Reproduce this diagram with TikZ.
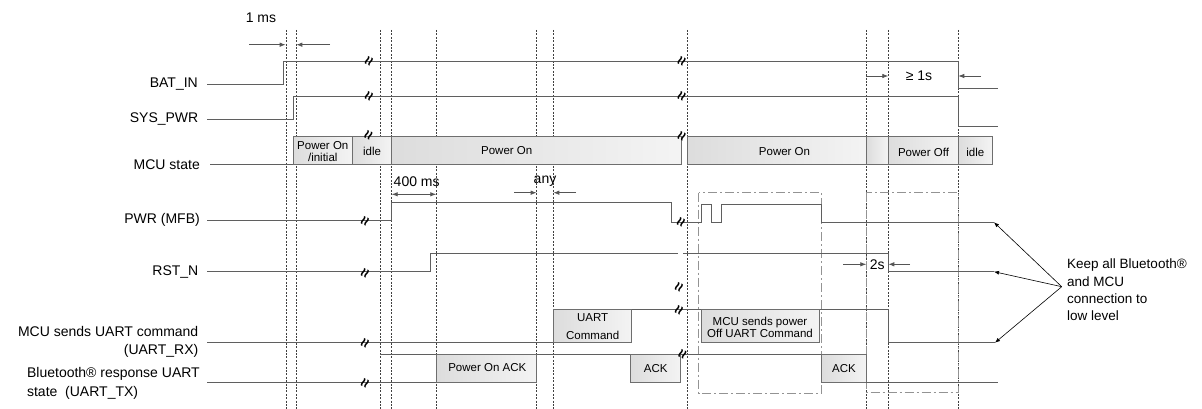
\documentclass[tikz,border=0pt]{standalone}
\usepackage{fontspec}
\setmainfont{Liberation Sans}
\usetikzlibrary{arrows.meta}
\newcommand\fsg{\fontsize{14}{18}\selectfont}
\newcommand\fbx{\fontsize{11.5}{12}\selectfont}
\definecolor{sigc}{RGB}{95,95,95}
\definecolor{dimc}{RGB}{85,85,85}
\definecolor{boxd}{RGB}{110,110,110}
\begin{document}
\begin{tikzpicture}[x=1pt,y=-1pt,
  sig/.style={draw=sigc, line width=0.9pt},
  gridline/.style={draw=black!75, line width=0.45pt, dash pattern=on 2pt off 1.4pt},
  dashdot/.style={draw=gray!85, line width=1pt, dash pattern=on 9pt off 3pt on 2pt off 3pt},
  dim/.style={draw=dimc, line width=0.8pt, -{Latex[length=6pt,width=4.5pt]}},
  dimboth/.style={draw=dimc, line width=0.8pt, {Latex[length=6pt,width=4.5pt]}-{Latex[length=6pt,width=4.5pt]}},
  keep/.style={draw=black, line width=0.6pt, -{Latex[length=5pt,width=4pt]}},
  stbox/.style={draw=boxd, line width=0.7pt, left color=gray!27, right color=gray!9},
  lbl/.style={font=\fsg, inner sep=0pt},
  blbl/.style={font=\fbx, inner sep=0pt, align=center},
  brk/.pic={\node[font=\fontsize{16}{16}\selectfont\bfseries, rotate=65, inner sep=0pt] {≈};}
]
\useasboundingbox (0,0) rectangle (1202,409);

% grid lines
\foreach \gx in {286,296,380,391.7,436.3,536.7,553.3,687.3,866.3,888.3,958.3}
  \draw[gridline] (\gx,30) -- (\gx,409);

% dash-dot frames
\draw[dashdot] (698.7,192.7) rectangle (821.7,393.3);
\draw[dashdot] (866.3,192.7) rectangle (958.3,392.3);

% signal labels
\node[lbl, anchor=east] (lbat) at (198,84) {BAT\_IN};
\node[lbl, anchor=east] (lsys) at (198.5,119) {SYS\_PWR};
\node[lbl, anchor=east] (lmcu) at (200,164.7) {MCU state};
\node[lbl, anchor=east] (lpwr) at (200,220) {PWR (MFB)};
\node[lbl, anchor=east] (lrst) at (198.5,271.7) {RST\_N};
\node[lbl, anchor=east, align=right] (lrx) at (198.5,341.7) {MCU sends UART command\\(UART\_RX)};
\node[lbl, anchor=east, align=left, font=\fontsize{14}{19}\selectfont] (ltx) at (200,383.5) {Bluetooth® response UART\\state\ \ (UART\_TX)};

% BAT_IN
\draw[sig] (207,84) -- (283,84) -- (283,61.3) -- (958.3,61.3) -- (958.3,88.3) -- (997.7,88.3);
% SYS_PWR
\draw[sig] (207,119) -- (293.7,119) -- (293.7,96.3) -- (958.3,96.3) -- (958.3,126) -- (997.7,126);

% MCU state
\draw[sig] (210,164.7) -- (293.3,164.7);
\draw[stbox] (293.3,136.7) rectangle (352.3,164.7);
\draw[stbox] (352.3,136.7) rectangle (391.7,164.7);
\draw[stbox] (391.7,136.7) rectangle (681,164.7);
\draw[stbox] (687.3,136.7) rectangle (866.3,164.7);
\draw[stbox] (866.3,136.7) rectangle (888.3,164.7);
\draw[stbox] (888.3,136.7) rectangle (958.3,164.7);
\draw[stbox] (958.3,136.7) rectangle (992.3,164.7);
\node[blbl] (s1) at (322.8,151.5) {Power On\\/initial};
\node[blbl] (s2) at (372,151) {idle};
\node[blbl] (s3) at (506.7,151) {Power On};
\node[blbl] (s4) at (784.5,151.5) {Power On};
\node[blbl] (s5) at (923.5,152) {Power Off};
\node[blbl] (s6) at (975.3,152) {idle};

% PWR (MFB)
\draw[sig] (207,220) -- (391.7,220) -- (391.7,202) -- (671,202) -- (671,222.3) -- (701,222.3)
  -- (701,204.3) -- (711.7,204.3) -- (711.7,222.3) -- (721.3,222.3) -- (721.3,204.3)
  -- (821.7,204.3) -- (821.7,222.3) -- (994,222.3) coordinate (pwrend);

% RST_N
\draw[sig] (207,271.7) -- (430.7,271.7) -- (430.7,253.3) -- (677.7,253.3);
\draw[sig] (683.3,253.3) -- (888.3,253.3) -- (888.3,271.7) -- (994,271.7) coordinate (rstend);

% UART_RX
\draw[sig] (207,342.7) -- (553.3,342.7);
\draw[stbox] (553.3,309.3) rectangle (631.7,342.7);
\node[blbl, font=\fontsize{11.5}{18}\selectfont] (uc) at (592.7,326.5) {UART\\Command};
\draw[sig] (631.7,309.3) -- (888.3,309.3) -- (888.3,342.7) -- (995,342.7) coordinate (rxend);
\draw[stbox] (701.7,309.3) rectangle (819.3,342.7);
\node[blbl] (mp) at (760,327.7) {MCU sends power\\Off UART Command};

% UART_TX
\draw[sig] (207,382.7) -- (436.3,382.7);
\draw[sig] (380,354) -- (866.3,354);
\draw[stbox] (436.3,354) rectangle (536.7,382.7);
\node[blbl] (pa) at (487.3,368) {Power On ACK};
\draw[stbox] (630.7,354) rectangle (680.7,382.7);
\node[blbl] (a1) at (655.7,369) {ACK};
\draw[stbox] (821.7,354) rectangle (866.3,382.7);
\node[blbl] (a2) at (844,369) {ACK};
\draw[sig] (866.3,382.7) -- (997.7,382.7);

% break marks
\foreach \bx/\by in {370/61.3, 370/96.3, 369.5/135.5, 682.7/61.3, 682.7/96.5, 682.7/137,
  366/222, 682/223, 366/273.5, 680/288, 366/343.5, 680/310.5, 366/384, 683.3/355}
  \pic at (\bx,\by) {brk};

% dimension arrows
\node[lbl] (t1ms) at (261,18) {1 ms};
\draw[dim] (249,44.7) -- (285.7,44.7);
\draw[dim] (330,44.7) -- (296.3,44.7);
\node[lbl] (t1s) at (919,76) {≥ 1s};
\draw[dim] (866.3,76) -- (888.3,76);
\draw[dim] (981,76) -- (958.3,76);
\node[lbl] (t400) at (416.7,181.7) {400 ms};
\draw[dimboth] (391.7,194.3) -- (436.3,194.3);
\node[lbl] (tany) at (545,180.7) {any};
\draw[dim] (514.3,192.7) -- (536.7,192.7);
\draw[dim] (576,192.7) -- (553.3,192.7);
\node[lbl] (t2s) at (877.3,264.3) {2s};
\draw[dim] (843.3,264.3) -- (866.3,264.3);
\draw[dim] (910,264.3) -- (888.3,264.3);

% note
\node[anchor=west, align=left, inner sep=0pt, font=\fontsize{13.5}{17.3}\selectfont] (note) at (1067,290) {Keep all Bluetooth®\\and MCU\\connection to\\low level};
\coordinate (hub) at (1061.7,286.7);
\draw[keep] (hub) -- (pwrend);
\draw[keep] (hub) -- (rstend);
\draw[keep] (hub) -- (rxend);
\end{tikzpicture}
\end{document}
